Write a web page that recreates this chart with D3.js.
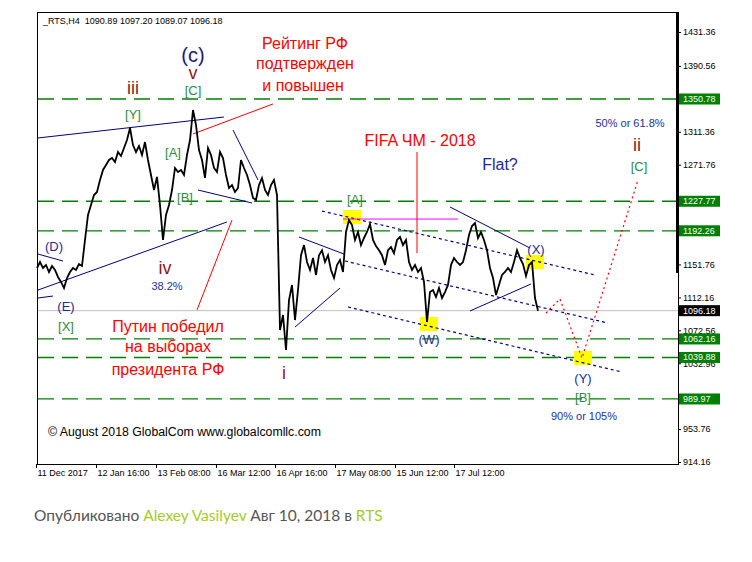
<!DOCTYPE html>
<html>
<head>
<meta charset="utf-8">
<title>RTS H4</title>
<script src="https://cdnjs.cloudflare.com/ajax/libs/d3/7.8.5/d3.min.js"></script>
<style>
  body { margin: 0; background: #fff; }
  svg text { font-family: "Liberation Sans", Arial, sans-serif; }
  .axis text { font-size: 9px; fill: #000; }
  .axis path { display: none; }
  .axis line { stroke: #000; }
  .footer { font-family: Lato, sans-serif; font-size: 15.5px; fill: #555; }
  .footer .hl { fill: #a6cc22; }
</style>
</head>
<body>
<div id="chart"></div>
<script>
// H4 closes, sampled along the chart (one value per ~3 px of bars)
const closes = [
  1147.5, 1154.7, 1147.5, 1151.1, 1142.7, 1149.9, 1145.1, 1136.7, 1130.7, 1123.4,
  1135.5, 1142.7, 1147.5, 1145.1, 1152.3, 1149.9, 1181.2, 1211.3, 1223.3, 1235.3,
  1238.9, 1253.4, 1265.4, 1271.4, 1277.4, 1279.8, 1275.0, 1287.0, 1282.2, 1291.8,
  1301.4, 1315.9, 1295.4, 1287.0, 1294.2, 1283.4, 1299.0, 1277.4, 1259.4, 1241.3,
  1257.0, 1223.3, 1181.2, 1211.3, 1223.3, 1241.3, 1267.8, 1263.0, 1265.4, 1259.4,
  1283.4, 1301.4, 1337.5, 1319.5, 1289.4, 1277.4, 1255.8, 1291.8, 1283.4, 1267.8,
  1263.0, 1287.0, 1279.8, 1259.4, 1243.7, 1247.3, 1238.9, 1243.7, 1277.4, 1267.8,
  1259.4, 1247.3, 1231.7, 1229.3, 1247.3, 1255.8, 1241.3, 1235.3, 1247.3, 1253.4,
  1235.3, 1072.9, 1091.0, 1048.9, 1109.0, 1127.1, 1084.9, 1121.0, 1162.9, 1175.1,
  1154.7, 1145.1, 1159.5, 1139.1, 1162.9, 1168.9, 1154.7, 1162.9, 1145.1, 1135.5,
  1151.1, 1157.1, 1142.7, 1190.8, 1205.2, 1199.2, 1181.2, 1190.8, 1175.1, 1183.6,
  1190.8, 1200.4, 1181.2, 1173.9, 1168.9, 1162.9, 1151.1, 1168.9, 1172.7, 1165.3,
  1181.2, 1184.8, 1175.1, 1181.2, 1154.7, 1145.1, 1151.1, 1142.7, 1147.5, 1130.7,
  1082.5, 1118.6, 1121.0, 1112.6, 1123.4, 1111.4, 1118.6, 1127.1, 1151.1, 1159.5,
  1154.7, 1151.1, 1154.7, 1168.9, 1187.2, 1198.0, 1201.6, 1183.6, 1190.8, 1181.2,
  1168.9, 1147.5, 1135.5, 1115.0, 1127.1, 1139.1, 1142.7, 1147.5, 1142.7, 1154.7,
  1168.9, 1159.5, 1152.3, 1137.9, 1151.1, 1154.7, 1111.4, 1096.18
];

const header = "_RTS,H4  1090.89 1097.20 1089.07 1096.18";
const lastPrice = 1096.18;
const levels = [1350.78, 1227.77, 1192.26, 1062.16, 1039.88, 989.97];
const priceTicks = [1431.36, 1390.56, 1311.36, 1271.76, 1151.76, 1112.16, 1072.56, 1032.96, 953.76, 914.16];
const dateLabels = ["11 Dec 2017", "12 Jan 16:00", "13 Feb 08:00", "16 Mar 12:00",
                    "16 Apr 16:00", "17 May 08:00", "15 Jun 12:00", "17 Jul 12:00"];
const dateIdx = [-0.33, 19.67, 39.67, 59.67, 79.33, 99.33, 119.33, 139];

// [bar1, price1, bar2, price2]
const trendLines = [
  [0.33, 1303.9, 62.3, 1329.1],
  [0.33, 1121.0, 63.3, 1202.8],
  [0.33, 1164.3, 8.67, 1155.9],
  [0.33, 1111.4, 5.33, 1113.8],
  [53.67, 1241.3, 71.67, 1225.7],
  [65.33, 1313.5, 73.67, 1253.4],
  [86, 1076.5, 101, 1123.4],
  [87.33, 1184.8, 102.33, 1164.3],
  [137.67, 1220.9, 164.33, 1171.5],
  [144.33, 1095.8, 164.67, 1128.3]
];
const channelLines = [
  [95, 1216.0, 186, 1139.1],
  [102.67, 1155.9, 190.33, 1081.3],
  [103.67, 1100.6, 195, 1022.4]
];
const magentaLine = [102, 1206.4, 140.33, 1206.4];
const redLines = [
  [126.67, 1287.0, 126.67, 1165.5],
  [52, 1308.7, 78.67, 1344.8],
  [53.33, 1097.0, 65, 1205.2]
];
const forecastBars = [169.67, 174.33, 181.67, 200.33];
const forecastPrices = [1093.4, 1110.2, 1039.3, 1253.4];
const markerBars = [105, 130.67, 166, 182];
const markerPrices = [1208.8, 1080.1, 1154.7, 1039.3];

// [text, bar, price, kind]
const waveLabels = [
  ["(c)", 52, 1403.5, "navyBig"],
  ["v", 52, 1382.0, "roman"],
  ["[C]", 52, 1360.4, "green"],
  ["iii", 32, 1364.0, "roman"],
  ["[Y]", 32, 1332.7, "green"],
  ["[A]", 45.33, 1287.0, "green"],
  ["[B]", 49.33, 1231.7, "green"],
  ["(D)", 5.67, 1173.9, "navy"],
  ["(E)", 9.67, 1100.6, "navy"],
  ["[X]", 9.67, 1077.7, "green"],
  ["iv", 42.67, 1147.5, "roman"],
  ["38.2%", 43.33, 1125.8, "pct"],
  ["i", 82.33, 1021.2, "roman"],
  ["[A]", 106, 1229.3, "green"],
  ["(W)", 130.67, 1062.1, "navy"],
  ["(X)", 166.33, 1170.3, "navy"],
  ["(Y)", 182, 1014.0, "navy"],
  ["[B]", 182, 992.3, "green"],
  ["90% or 105%", 182.33, 969.5, "pct"],
  ["50% or 61.8%", 197.67, 1321.9, "pct"],
  ["ii", 200, 1295.4, "roman"],
  ["[C]", 200.67, 1269.0, "green"],
  ["Flat?", 154.33, 1271.4, "flat"],
  ["FIFA ЧМ - 2018", 127.67, 1301.4, "news"],
  ["Рейтинг РФ", 89.33, 1418.1, "news"],
  ["подтвержден", 89.33, 1392.9, "news"],
  ["и повышен", 88.67, 1367.6, "news"],
  ["Путин победил", 43.67, 1077.7, "news"],
  ["на выборах", 43.67, 1052.5, "news"],
  ["президента РФ", 43.67, 1026.0, "news"]
];
const labelStyle = {
  navyBig: {fill: "#1a1a80", size: 20},
  roman:   {fill: "#8b1a1a", size: 18},
  green:   {fill: "#2e8b3e", size: 13},
  navy:    {fill: "#1c2a9a", size: 13},
  pct:     {fill: "#2030a0", size: 11},
  flat:    {fill: "#1c2a9a", size: 16},
  news:    {fill: "#ff0000", size: 16}
};

const width = 752, height = 562;
const plot = {left: 37, right: 678, top: 12, bottom: 464};

const svg = d3.select('#chart').append('svg')
  .attr('width', width).attr('height', height);

const x = d3.scaleLinear().domain([0, 214]).range([37, 679]);
const y = d3.scaleLinear().domain([914.16, 1431.36]).range([462, 32]);

// frame
svg.append('rect').attr('x', plot.left + 0.5).attr('y', plot.top + 0.5)
  .attr('width', plot.right - plot.left).attr('height', plot.bottom - plot.top)
  .attr('fill', '#fff').attr('stroke', '#000');

// level lines
svg.append('g').selectAll('line').data(levels).join('line')
  .attr('x1', plot.left + 1).attr('x2', plot.right)
  .attr('y1', d => y(d)).attr('y2', d => y(d))
  .attr('stroke', '#008000').attr('stroke-width', 1.3)
  .attr('stroke-dasharray', '16,8');

// current price line
svg.append('line').attr('x1', plot.left + 1).attr('x2', plot.right)
  .attr('y1', y(lastPrice)).attr('y2', y(lastPrice))
  .attr('stroke', '#c0c0c0');

// yellow markers
svg.append('g').selectAll('rect').data(markerBars).join('rect')
  .attr('x', d => x(d) - 9)
  .attr('y', (d, i) => y(markerPrices[i]) - 7)
  .attr('width', 18).attr('height', 14)
  .attr('fill', '#ffff00');

const seg = (g, data, color, dash, w) => g.selectAll('line').data(data).join('line')
  .attr('x1', d => x(d[0])).attr('y1', d => y(d[1]))
  .attr('x2', d => x(d[2])).attr('y2', d => y(d[3]))
  .attr('stroke', color).attr('stroke-width', w || 1)
  .attr('stroke-dasharray', dash);

seg(svg.append('g'), channelLines, '#000080', '3,3', 1.2);
seg(svg.append('g'), trendLines, '#000080', null, 1);
seg(svg.append('g'), [magentaLine], '#ff00ff', null, 1);
seg(svg.append('g'), redLines, '#ff0000', null, 1);

// forecast path
svg.append('path')
  .datum(forecastBars)
  .attr('fill', 'none').attr('stroke', '#ff0000')
  .attr('stroke-width', 1.2).attr('stroke-dasharray', '2,3')
  .attr('d', d3.line().x(d => x(d)).y((d, i) => y(forecastPrices[i])));

// price
svg.append('path')
  .datum(closes)
  .attr('fill', 'none').attr('stroke', '#000')
  .attr('stroke-width', 1.8).attr('stroke-linejoin', 'miter')
  .attr('d', d3.line().x((d, i) => x(i)).y(d => y(d)));

// labels
svg.append('g').selectAll('text').data(waveLabels).join('text')
  .attr('x', d => x(d[1])).attr('y', d => y(d[2]))
  .attr('text-anchor', 'middle').attr('dominant-baseline', 'central')
  .attr('fill', d => labelStyle[d[3]].fill)
  .attr('font-size', d => labelStyle[d[3]].size)
  .text(d => d[0]);

svg.append('text').attr('x', 43).attr('y', 24)
  .attr('font-size', 9).attr('fill', '#000')
  .style('white-space', 'pre').text(header);

svg.append('text').attr('x', 48).attr('y', 436)
  .attr('font-size', 12.3).attr('fill', '#000')
  .text('© August 2018 GlobalCom www.globalcomllc.com');

// right price axis
svg.append('g').attr('class', 'axis')
  .attr('transform', `translate(${plot.right},0)`)
  .call(d3.axisRight(y).tickValues(priceTicks).tickSize(3).tickPadding(2)
    .tickFormat(d3.format('.2f')));

svg.append('rect').attr('x', plot.right - 2).attr('y', plot.top)
  .attr('width', 3).attr('height', 261).attr('fill', '#000');

const boxes = svg.append('g').selectAll('g')
  .data(levels.map(v => ({v, c: '#008000'})).concat([{v: lastPrice, c: '#000'}]))
  .join('g').attr('transform', d => `translate(${plot.right + 1},${y(d.v)})`);
boxes.append('rect').attr('x', 0).attr('y', -5.5).attr('width', 41).attr('height', 11)
  .attr('fill', d => d.c);
boxes.append('text').attr('x', 4).attr('y', 0).attr('dominant-baseline', 'central')
  .attr('font-size', 9).attr('fill', '#fff').text(d => d.v.toFixed(2));

// bottom time axis
const xa = svg.append('g').attr('class', 'axis')
  .attr('transform', `translate(0,${plot.bottom})`)
  .call(d3.axisBottom(x).tickValues(dateIdx).tickSize(4).tickPadding(2)
    .tickFormat((d, i) => dateLabels[i]));
xa.selectAll('text').attr('text-anchor', 'start').attr('dx', 1);

// footer
const ft = svg.append('text').attr('class', 'footer').attr('x', 34).attr('y', 521);
ft.append('tspan').text('Опубликовано ');
ft.append('tspan').attr('class', 'hl').text('Alexey Vasilyev');
ft.append('tspan').text(' Авг 10, 2018 в ');
ft.append('tspan').attr('class', 'hl').text('RTS');
</script>
</body>
</html>
